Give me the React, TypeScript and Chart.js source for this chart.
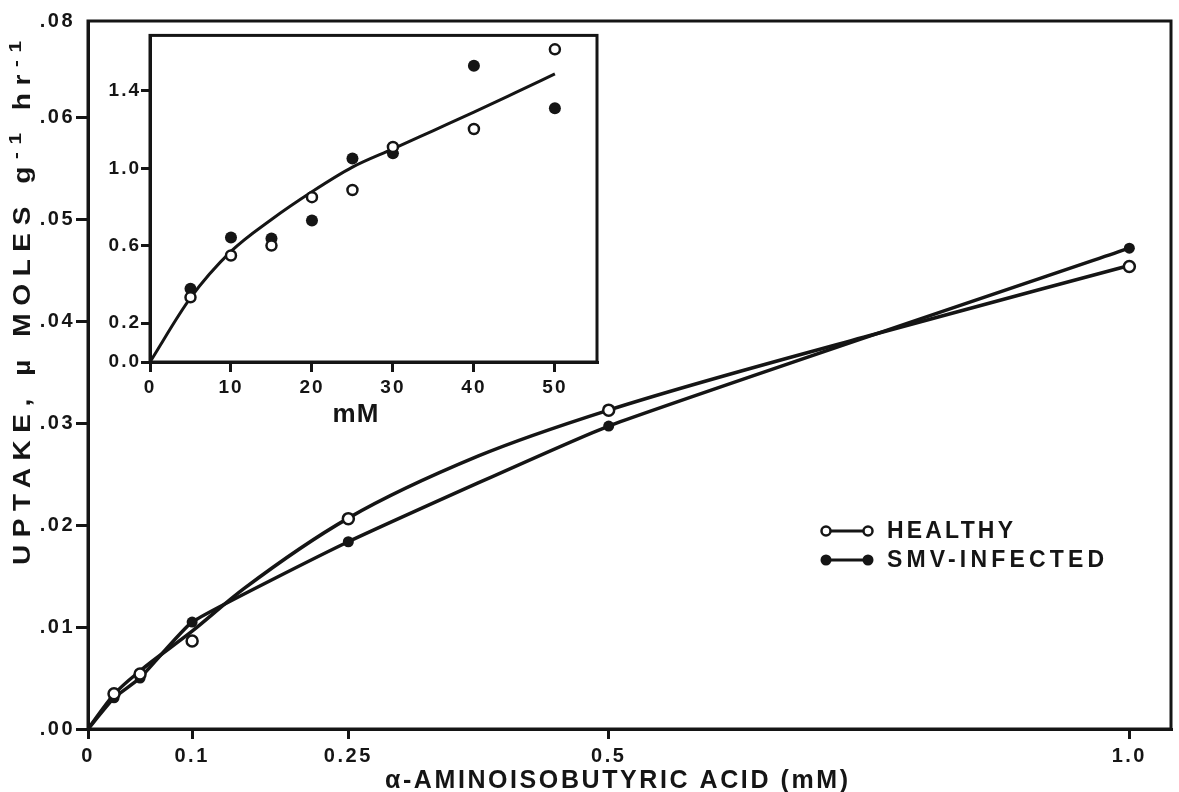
import React, { useEffect, useRef } from 'react';
import { Chart, registerables } from 'chart.js';

Chart.register(...registerables);

// ---------- main chart data ----------
const mainXTicks = [0, 0.1, 0.25, 0.5, 1.0];
const mainXTickLabels = ['0', '0.1', '0.25', '0.5', '1.0'];
const mainYTicks = [0, 0.01, 0.02, 0.03, 0.04, 0.05, 0.06, 0.0695];
const mainYTickLabels = ['.00', '.01', '.02', '.03', '.04', '.05', '.06', '.08'];

const concentrations = [0.025, 0.05, 0.1, 0.25, 0.5, 1.0];
const healthyUptake = [0.00346, 0.0054, 0.00863, 0.02065, 0.0313, 0.0454];
const infectedUptake = [0.00306, 0.005, 0.0105, 0.01838, 0.02974, 0.0472];

const healthyCurveX = [0, 0.025, 0.05, 0.1, 0.15, 0.25, 0.375, 0.5, 0.75, 1.0];
const healthyCurveY = [0, 0.0034, 0.0057, 0.0096, 0.0138, 0.0207, 0.0268, 0.0313, 0.0386, 0.0455];

const originX = 0;
const originY = 0;

// ---------- inset data ----------
const insetX = [5, 10, 15, 20, 25, 30, 40, 50];
const insetHealthy = [0.334, 0.55, 0.601, 0.851, 0.888, 1.11, 1.203, 1.614];
const insetInfected = [0.378, 0.643, 0.638, 0.731, 1.05, 1.077, 1.529, 1.31];
const insetCurveX = [0, 5, 10, 15, 20, 25, 30, 35, 40, 45, 50];
const insetCurveY = [0, 0.331, 0.571, 0.736, 0.879, 1.006, 1.1, 1.195, 1.29, 1.388, 1.487];
const insetXTicks = [0, 10, 20, 30, 40, 50];
const insetXTickLabels = ['0', '10', '20', '30', '40', '50'];
const insetYTicks = [0, 0.2, 0.6, 1.0, 1.4];
const insetYTickLabels = ['0.0', '0.2', '0.6', '1.0', '1.4'];

// ---------- text ----------
const xTitle = 'α-AMINOISOBUTYRIC ACID (mM)';
// y title: pieces, superscript pieces flagged
const yTitleParts = [
  { text: 'UPTAKE, µ MOLES g', sup: false },
  { text: '-1', sup: true },
  { text: ' hr', sup: false },
  { text: '-1', sup: true },
];
const insetXTitle = 'mM';
const legendLabels = ['HEALTHY', 'SMV-INFECTED'];

const INK = '#151515';
const FONT = "'Liberation Sans', Arial, sans-serif";

const zip = (xs: number[], ys: number[]) => xs.map((x, i) => ({ x, y: ys[i] }));

// draw text left-aligned at x so that its visible width equals `target`
const drawFitted = (ctx: any, text: string, font: string, x: number, y: number, target: number) => {
  ctx.font = font;
  ctx.letterSpacing = '0px';
  const w = ctx.measureText(text).width;
  const n = Array.from(text).length;
  const s = Math.max(0, (target - w) / (n - 1));
  ctx.letterSpacing = `${s}px`;
  ctx.textAlign = 'left';
  ctx.fillText(text, x, y);
};

// draw segments (with superscripts) spread to a target width, glyphs widened by `stretch`
const drawRich = (
  ctx: any,
  parts: { text: string; sup: boolean }[],
  size: number,
  x: number,
  y: number,
  target: number,
  stretch: number
) => {
  const fontFor = (sup: boolean) => `bold ${sup ? Math.round(size * 0.72) : size}px ${FONT}`;
  ctx.save();
  ctx.translate(x, y);
  ctx.scale(stretch, 1);
  const t = target / stretch;
  ctx.letterSpacing = '0px';
  let natural = 0;
  let n = 0;
  parts.forEach((p) => {
    ctx.font = fontFor(p.sup);
    natural += ctx.measureText(p.text).width;
    n += Array.from(p.text).length;
  });
  const s = Math.max(0, (t - natural) / (n - 1));
  ctx.letterSpacing = `${s}px`;
  ctx.textAlign = 'left';
  ctx.textBaseline = 'alphabetic';
  let cx = 0;
  parts.forEach((p) => {
    ctx.font = fontFor(p.sup);
    ctx.fillText(p.text, cx, p.sup ? -size * 0.38 : 0);
    cx += ctx.measureText(p.text).width;
  });
  ctx.restore();
};

const spacing = (px: string) => ({
  id: 'spacing',
  beforeLayout(chart: any) {
    chart.ctx.letterSpacing = px;
  },
  beforeDraw(chart: any) {
    chart.ctx.letterSpacing = px;
  },
});

const framePlugin = {
  id: 'frame',
  beforeDatasetsDraw(chart: any) {
    const { ctx, chartArea: a } = chart;
    ctx.save();
    ctx.strokeStyle = INK;
    ctx.lineWidth = 3;
    ctx.strokeRect(a.left, a.top, a.right - a.left, a.bottom - a.top);
    ctx.restore();
  },
};

const mainTextPlugin = {
  id: 'mainText',
  afterDraw(chart: any) {
    const ctx = chart.ctx as any;
    ctx.save();
    ctx.fillStyle = INK;
    ctx.strokeStyle = INK;

    // y title (reads bottom to top)
    ctx.save();
    ctx.translate(30, 303);
    ctx.rotate(-Math.PI / 2);
    drawRich(ctx, yTitleParts, 23, -262, 0, 524, 1.22);
    ctx.restore();

    // x title
    ctx.save();
    ctx.textBaseline = 'alphabetic';
    drawFitted(ctx, xTitle, `bold 25px ${FONT}`, 385, 788, 463);
    ctx.restore();

    // legend
    const rows = [
      { y: 531, filled: false, label: legendLabels[0], w: 126 },
      { y: 560, filled: true, label: legendLabels[1], w: 217 },
    ];
    rows.forEach((r) => {
      ctx.lineWidth = 3;
      ctx.strokeStyle = INK;
      ctx.beginPath();
      ctx.moveTo(826, r.y);
      ctx.lineTo(868, r.y);
      ctx.stroke();
      [826, 868].forEach((cx) => {
        ctx.beginPath();
        ctx.arc(cx, r.y, r.filled ? 5.5 : 4.5, 0, Math.PI * 2);
        if (r.filled) {
          ctx.fillStyle = INK;
          ctx.fill();
        } else {
          ctx.fillStyle = '#ffffff';
          ctx.fill();
          ctx.lineWidth = 2.5;
          ctx.stroke();
        }
      });
      ctx.fillStyle = INK;
      ctx.textBaseline = 'alphabetic';
      drawFitted(ctx, r.label, `bold 23px ${FONT}`, 887, r.y + 7, r.w);
    });
    ctx.restore();
  },
};

const insetTextPlugin = {
  id: 'insetText',
  afterDraw(chart: any) {
    const ctx = chart.ctx as any;
    ctx.save();
    ctx.fillStyle = INK;
    ctx.letterSpacing = '1px';
    ctx.font = `bold 26px ${FONT}`;
    ctx.textAlign = 'center';
    ctx.textBaseline = 'alphabetic';
    ctx.fillText(insetXTitle, 261, 398);
    ctx.restore();
  },
};

const axisGrid = (len: number, colorFn?: any) => ({
  display: true,
  drawOnChartArea: false,
  drawTicks: true,
  tickLength: len,
  tickWidth: 3,
  lineWidth: 3,
  color: INK,
  tickColor: colorFn || INK,
});

const MainChart = () => {
  const ref = useRef<HTMLCanvasElement>(null);
  useEffect(() => {
    if (!ref.current) return;
    const chart = new Chart(ref.current, {
      type: 'scatter',
      data: {
        datasets: [
          {
            label: 'Healthy',
            data: zip(concentrations, healthyUptake),
            showLine: false,
            pointRadius: 5.5,
            pointBorderWidth: 2.5,
            pointBackgroundColor: '#ffffff',
            pointBorderColor: INK,
          },
          {
            label: 'SMV-infected',
            data: zip(concentrations, infectedUptake),
            showLine: false,
            pointRadius: 5.5,
            pointBorderWidth: 0,
            pointBackgroundColor: INK,
            pointBorderColor: INK,
          },
          {
            label: 'Healthy curve',
            data: zip(healthyCurveX, healthyCurveY),
            showLine: true,
            pointRadius: 0,
            borderColor: INK,
            borderWidth: 3.5,
            cubicInterpolationMode: 'monotone',
          },
          {
            label: 'Infected line',
            data: [{ x: originX, y: originY }, ...zip(concentrations, infectedUptake)],
            showLine: true,
            pointRadius: 0,
            borderColor: INK,
            borderWidth: 3.5,
            tension: 0.12,
          },
        ],
      } as any,
      options: {
        animation: false,
        responsive: false,
        maintainAspectRatio: false,
        layout: { padding: { top: 21, right: 6, left: 0, bottom: 0 } },
        plugins: { legend: { display: false }, tooltip: { enabled: false }, title: { display: false } },
        scales: {
          x: {
            type: 'linear',
            min: 0,
            max: 1.04,
            afterBuildTicks: (s: any) => {
              s.ticks = mainXTicks.map((v) => ({ value: v }));
            },
            afterFit: (s: any) => {
              s.height = 63;
            },
            ticks: {
              autoSkip: false,
              maxRotation: 0,
              padding: 5,
              color: INK,
              font: { family: FONT, size: 20, weight: 'bold' },
              callback: (_v: any, i: number) => mainXTickLabels[i],
            },
            grid: axisGrid(10),
            border: { display: true, width: 3, color: INK },
          },
          y: {
            type: 'linear',
            min: 0,
            max: 0.0695,
            afterBuildTicks: (s: any) => {
              s.ticks = mainYTicks.map((v) => ({ value: v }));
            },
            afterFit: (s: any) => {
              s.width = 88;
            },
            ticks: {
              autoSkip: false,
              padding: 1,
              color: INK,
              font: { family: FONT, size: 20, weight: 'bold' },
              callback: (_v: any, i: number) => mainYTickLabels[i],
            },
            grid: axisGrid(12, (c: any) => (c.index === mainYTicks.length - 1 ? 'rgba(0,0,0,0)' : INK)),
            border: { display: true, width: 3, color: INK },
          },
        },
      } as any,
      plugins: [spacing('2.5px'), framePlugin, mainTextPlugin],
    });
    return () => chart.destroy();
  }, []);
  return (
    <canvas
      ref={ref}
      width={1179}
      height={792}
      style={{ position: 'absolute', left: 0, top: 0, width: 1179, height: 792, display: 'block' }}
    />
  );
};

const InsetChart = () => {
  const ref = useRef<HTMLCanvasElement>(null);
  useEffect(() => {
    if (!ref.current) return;
    const chart = new Chart(ref.current, {
      type: 'scatter',
      data: {
        datasets: [
          {
            label: 'Healthy',
            data: zip(insetX, insetHealthy),
            showLine: false,
            pointRadius: 5,
            pointBorderWidth: 2.5,
            pointBackgroundColor: '#ffffff',
            pointBorderColor: INK,
          },
          {
            label: 'SMV-infected',
            data: zip(insetX, insetInfected),
            showLine: false,
            pointRadius: 6,
            pointBorderWidth: 0,
            pointBackgroundColor: INK,
            pointBorderColor: INK,
          },
          {
            label: 'Fit',
            data: zip(insetCurveX, insetCurveY),
            showLine: true,
            pointRadius: 0,
            borderColor: INK,
            borderWidth: 3,
            cubicInterpolationMode: 'monotone',
          },
        ],
      } as any,
      options: {
        animation: false,
        responsive: false,
        maintainAspectRatio: false,
        layout: { padding: { top: 5, right: 18, left: 0, bottom: 0 } },
        plugins: { legend: { display: false }, tooltip: { enabled: false }, title: { display: false } },
        scales: {
          x: {
            type: 'linear',
            min: 0,
            max: 55.2,
            afterBuildTicks: (s: any) => {
              s.ticks = insetXTicks.map((v) => ({ value: v }));
            },
            afterFit: (s: any) => {
              s.height = 68;
            },
            ticks: {
              autoSkip: false,
              maxRotation: 0,
              padding: 4,
              color: INK,
              font: { family: FONT, size: 19, weight: 'bold' },
              callback: (_v: any, i: number) => insetXTickLabels[i],
            },
            grid: axisGrid(10),
            border: { display: true, width: 3, color: INK },
          },
          y: {
            type: 'linear',
            min: 0,
            max: 1.686,
            afterBuildTicks: (s: any) => {
              s.ticks = insetYTicks.map((v) => ({ value: v }));
            },
            afterFit: (s: any) => {
              s.width = 55;
            },
            ticks: {
              autoSkip: false,
              padding: 0,
              color: INK,
              font: { family: FONT, size: 19, weight: 'bold' },
              callback: (_v: any, i: number) => insetYTickLabels[i],
            },
            grid: axisGrid(9),
            border: { display: true, width: 3, color: INK },
          },
        },
      } as any,
      plugins: [spacing('2px'), framePlugin, insetTextPlugin],
    });
    return () => chart.destroy();
  }, []);
  return (
    <canvas
      ref={ref}
      width={520}
      height={406}
      style={{ position: 'absolute', left: 95, top: 24, width: 520, height: 406, display: 'block' }}
    />
  );
};

export default function App() {
  return (
    <div
      style={{
        position: 'absolute',
        left: 0,
        top: 0,
        width: 1179,
        height: 792,
        background: '#ffffff',
        overflow: 'hidden',
      }}
    >
      <MainChart />
      <InsetChart />
    </div>
  );
}
